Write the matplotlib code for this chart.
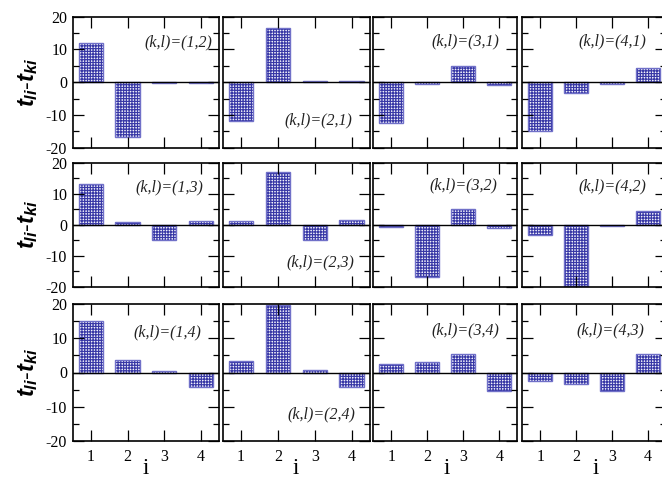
import matplotlib
matplotlib.use("Agg")
import matplotlib.pyplot as plt
from matplotlib.ticker import MultipleLocator

# ---------------- data ----------------
i_vals = [1, 2, 3, 4]
xtick_labels = ["1", "2", "3", "4"]
ytick_vals = [-20, -10, 0, 10, 20]

labels_row1 = ["(k,l)=(1,2)", "(k,l)=(2,1)", "(k,l)=(3,1)", "(k,l)=(4,1)"]
labels_row2 = ["(k,l)=(1,3)", "(k,l)=(2,3)", "(k,l)=(3,2)", "(k,l)=(4,2)"]
labels_row3 = ["(k,l)=(1,4)", "(k,l)=(2,4)", "(k,l)=(3,4)", "(k,l)=(4,3)"]

d12 = [11.9, -16.6, -0.3, -0.3]
d21 = [-11.7, 16.4, 0.3, 0.3]
d31 = [-12.5, -0.4, 5.0, -1.0]
d41 = [-14.8, -3.4, -0.5, 4.3]

d13 = [13.0, 0.8, -5.0, 1.3]
d23 = [1.2, 16.9, -4.9, 1.4]
d32 = [-0.9, -16.8, 5.1, -1.0]
d42 = [-3.3, -19.7, -0.5, 4.4]

d14 = [15.1, 3.6, 0.5, -4.3]
d24 = [3.5, 19.8, 0.6, -4.3]
d34 = [2.4, 3.0, 5.4, -5.4]
d43 = [-2.6, -3.3, -5.4, 5.4]

rows_data = [[d12, d21, d31, d41], [d13, d23, d32, d42], [d14, d24, d34, d43]]
rows_labels = [labels_row1, labels_row2, labels_row3]

# ---------------- layout ----------------
W, H = 662, 480
plt.rcParams['hatch.linewidth'] = 0.85
plt.rcParams['mathtext.fontset'] = 'custom'
plt.rcParams['mathtext.it'] = 'Liberation Sans:italic:bold'
plt.rcParams['mathtext.rm'] = 'Liberation Sans'

fig = plt.figure(figsize=(W / 100, H / 100), dpi=100)

col_left = [72.7, 222.5, 373.3, 522.3]
col_right = [219.0, 370.0, 517.3, 666.0]
row_top = [16.7, 162.7, 304.0]
row_bot = [147.7, 286.7, 441.0]

# label placement (x of right edge in data, y in data)
lab_pos = [
    [(4.33, 12.1), (4.02, -11.8), (4.01, 12.4), (3.95, 12.4)],
    [(4.08, 12.1), (4.08, -12.3), (3.95, 12.8), (3.95, 12.3)],
    [(4.01, 11.6), (4.09, -12.1), (4.00, 12.2), (3.91, 12.2)],
]

serif = 'Liberation Serif'
bar_dark = '#3838a6'
bar_edge = '#7070c8'

for r in range(3):
    for c in range(4):
        left = col_left[c] / W
        bottom = 1 - row_bot[r] / H
        height = (row_bot[r] - row_top[r]) / H
        width = (col_right[c] - col_left[c]) / W
        ax = fig.add_axes([left, bottom, width, height])
        vals = rows_data[r][c]
        ax.bar(i_vals, vals, width=0.66, facecolor='#f2f2fb', edgecolor=bar_dark,
               hatch='++++++', linewidth=0, zorder=1)
        ax.bar(i_vals, vals, width=0.66, facecolor='none', edgecolor=bar_edge,
               linewidth=1.0, zorder=1.5)
        ax.axhline(0, color='black', lw=1.0, zorder=2)
        ax.set_xlim(0.5, 4.5)
        ax.set_ylim(-20, 20)
        ax.set_xticks(i_vals)
        ax.set_yticks(ytick_vals)
        ax.yaxis.set_minor_locator(MultipleLocator(5))
        ax.tick_params(axis='both', which='major', direction='in', length=8,
                       width=0.9, top=True, right=True, labelsize=11.5)
        ax.tick_params(axis='y', which='minor', direction='in', length=4.3,
                       width=0.9, left=True, right=True)
        ax.tick_params(axis='y', pad=4)
        ax.tick_params(axis='x', pad=6)
        for sp in ax.spines.values():
            sp.set_linewidth(1.2)
        if c == 0:
            ax.set_yticklabels([str(v) for v in ytick_vals], fontfamily=serif)
        else:
            ax.set_yticklabels([])
        if r == 2:
            ax.set_xticklabels(xtick_labels, fontfamily=serif)
            xc = (col_left[c] + (col_left[c] + 146.7)) / 2 / W
            fig.text(xc, 0.5 / H, 'i', ha='center', va='bottom',
                     fontfamily=serif, fontsize=16.5)
        else:
            ax.set_xticklabels([])
        lx, ly = lab_pos[r][c]
        ax.text(lx, ly, rows_labels[r][c], ha='right', va='center',
                fontfamily=serif, style='italic', fontsize=11.5, color='#222222')
    yc = 1 - ((row_top[r] + row_bot[r]) / 2) / H
    fig.text(28 / W, yc, r'$t_{li}$' + '-' + r'$t_{ki}$', rotation=90,
             ha='center', va='center', fontsize=17, fontfamily='Liberation Sans')

fig.savefig('out.png', dpi=100)
